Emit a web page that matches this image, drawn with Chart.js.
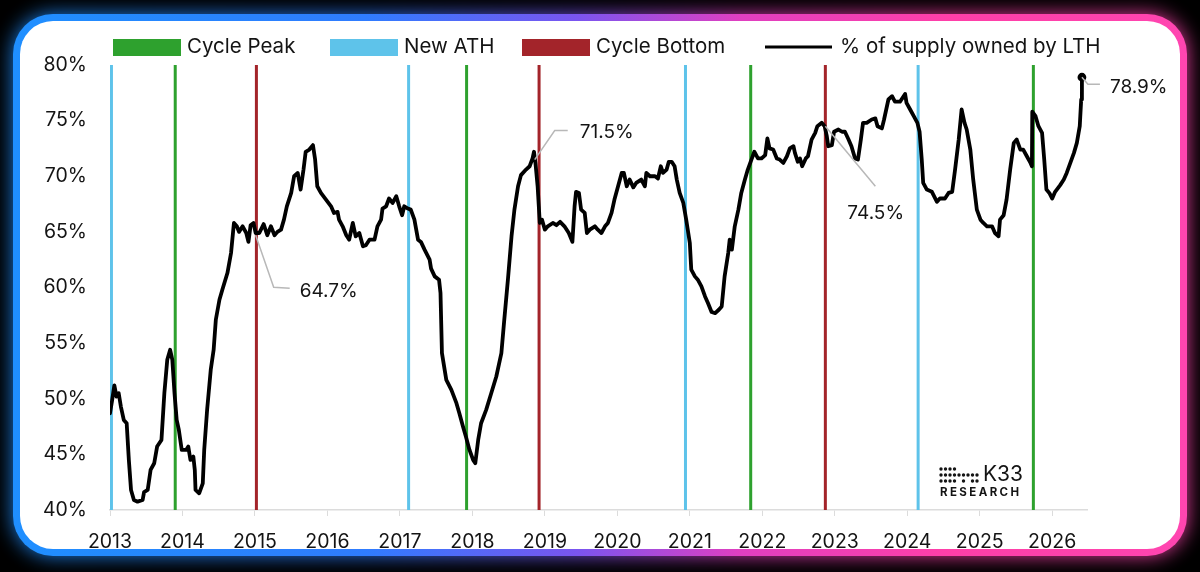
<!DOCTYPE html>
<html>
<head>
<meta charset="utf-8">
<script src="https://cdn.jsdelivr.net/npm/chart.js@4.4.1/dist/chart.umd.min.js"></script>
<style>
  html, body { margin: 0; padding: 0; background: #000; }
  #wrap { position: relative; width: 1200px; height: 572px; overflow: hidden; background: #000; }
  .glow, .ring { position: absolute; left: 13px; top: 14px; width: 1174px; height: 542px; border-radius: 40px;
    background: linear-gradient(90deg, #1f8fff 0%, #2f7cff 30%, #7a55f0 48%, #e03fc0 62%, #ff3fa8 80%, #ff45b0 100%); }
  .glow { filter: blur(10px); opacity: 0.9; }
  .panel { position: absolute; left: 20px; top: 21px; width: 1160px; height: 528px; border-radius: 33px; background: #fff; }
  canvas { position: absolute; left: 0; top: 0; }
</style>
</head>
<body>
<div id="wrap">
  <div class="glow"></div>
  <div class="ring"></div>
  <div class="panel"></div>
  <canvas id="lthChart" width="1200" height="572"></canvas>
</div>
<script>
// % of BTC supply held by long-term holders
const years = [
  2013.00, 2013.03, 2013.06, 2013.09, 2013.12, 2013.15, 2013.19, 2013.23, 2013.26, 2013.29,
  2013.33, 2013.38, 2013.45, 2013.47, 2013.52, 2013.56, 2013.61, 2013.65, 2013.71, 2013.75,
  2013.79, 2013.83, 2013.86, 2013.89, 2013.92, 2013.95, 2013.99, 2014.05, 2014.08, 2014.11,
  2014.15, 2014.17, 2014.18, 2014.23, 2014.28, 2014.30, 2014.34, 2014.39, 2014.43, 2014.46,
  2014.51, 2014.55, 2014.62, 2014.67, 2014.71, 2014.75, 2014.78, 2014.83, 2014.88, 2014.91,
  2014.94, 2014.98, 2015.01, 2015.06, 2015.12, 2015.17, 2015.22, 2015.27, 2015.31, 2015.36,
  2015.40, 2015.44, 2015.50, 2015.54, 2015.59, 2015.63, 2015.67, 2015.70, 2015.75, 2015.80,
  2015.83, 2015.86, 2015.91, 2015.98, 2016.05, 2016.09, 2016.14, 2016.16, 2016.21, 2016.26,
  2016.30, 2016.35, 2016.39, 2016.44, 2016.49, 2016.53, 2016.58, 2016.65, 2016.69, 2016.74,
  2016.76, 2016.81, 2016.85, 2016.90, 2016.95, 2016.99, 2017.03, 2017.06, 2017.11, 2017.15,
  2017.20, 2017.25, 2017.29, 2017.34, 2017.41, 2017.43, 2017.48, 2017.54, 2017.56, 2017.58,
  2017.64, 2017.71, 2017.78, 2017.82, 2017.87, 2017.91, 2017.96, 2018.01, 2018.04, 2018.08,
  2018.12, 2018.19, 2018.26, 2018.33, 2018.40, 2018.44, 2018.49, 2018.54, 2018.58, 2018.63,
  2018.67, 2018.74, 2018.79, 2018.83, 2018.85, 2018.87, 2018.90, 2018.93, 2018.96, 2019.00,
  2019.04, 2019.11, 2019.16, 2019.21, 2019.27, 2019.33, 2019.38, 2019.41, 2019.43, 2019.47,
  2019.50, 2019.55, 2019.58, 2019.62, 2019.69, 2019.73, 2019.78, 2019.83, 2019.87, 2019.92,
  2019.96, 2020.01, 2020.06, 2020.09, 2020.13, 2020.17, 2020.22, 2020.26, 2020.33, 2020.38,
  2020.40, 2020.45, 2020.52, 2020.56, 2020.60, 2020.63, 2020.68, 2020.71, 2020.75, 2020.79,
  2020.82, 2020.86, 2020.91, 2020.95, 2021.00, 2021.02, 2021.07, 2021.11, 2021.16, 2021.21,
  2021.25, 2021.30, 2021.35, 2021.40, 2021.44, 2021.48, 2021.53, 2021.55, 2021.58, 2021.62,
  2021.67, 2021.71, 2021.76, 2021.80, 2021.85, 2021.89, 2021.94, 2021.99, 2022.04, 2022.07,
  2022.10, 2022.15, 2022.20, 2022.24, 2022.29, 2022.34, 2022.38, 2022.43, 2022.45, 2022.49,
  2022.52, 2022.55, 2022.60, 2022.63, 2022.68, 2022.73, 2022.76, 2022.82, 2022.86, 2022.89,
  2022.91, 2022.96, 2022.99, 2023.05, 2023.10, 2023.14, 2023.19, 2023.23, 2023.28, 2023.32,
  2023.36, 2023.39, 2023.44, 2023.51, 2023.56, 2023.59, 2023.65, 2023.68, 2023.74, 2023.79,
  2023.83, 2023.90, 2023.97, 2023.99, 2024.04, 2024.09, 2024.14, 2024.17, 2024.20, 2024.22,
  2024.27, 2024.34, 2024.41, 2024.45, 2024.52, 2024.57, 2024.62, 2024.66, 2024.71, 2024.75,
  2024.79, 2024.82, 2024.87, 2024.91, 2024.96, 2025.01, 2025.05, 2025.10, 2025.17, 2025.21,
  2025.26, 2025.28, 2025.33, 2025.37, 2025.42, 2025.47, 2025.51, 2025.56, 2025.60, 2025.65,
  2025.70, 2025.72, 2025.725, 2025.77, 2025.81, 2025.86, 2025.89, 2025.92, 2025.96, 2026.00,
  2026.04, 2026.11, 2026.16, 2026.20, 2026.25, 2026.30, 2026.34, 2026.38, 2026.40, 2026.41
];
const lthShare = [
  48.7, 49.9, 51.2, 50.2, 50.5, 49.3, 48.1, 47.8, 44.5, 41.8,
  40.9, 40.75, 40.9, 41.6, 41.8, 43.6, 44.2, 45.7, 46.3, 50.5,
  53.5, 54.4, 53.5, 50.5, 48.1, 47.2, 45.4, 45.4, 45.7, 44.5,
  44.8, 43.6, 41.8, 41.5, 42.4, 45.4, 49.0, 52.6, 54.4, 57.1,
  58.9, 59.8, 61.3, 63.1, 65.8, 65.5, 65.0, 65.5, 64.9, 64.1,
  65.6, 65.8, 64.9, 64.9, 65.7, 64.7, 65.5, 64.7, 65.0, 65.2,
  66.1, 67.3, 68.5, 70.0, 70.3, 68.8, 70.6, 72.2, 72.4, 72.8,
  71.5, 69.1, 68.5, 67.9, 67.3, 66.7, 66.8, 66.1, 65.5, 64.7,
  64.3, 65.8, 64.6, 64.9, 63.7, 63.8, 64.3, 64.3, 65.5, 66.1,
  67.1, 67.3, 68.0, 67.6, 68.2, 67.3, 66.5, 67.3, 67.1, 67.0,
  66.1, 64.3, 64.1, 63.4, 62.5, 61.7, 61.0, 60.7, 59.5, 54.1,
  51.7, 50.8, 49.6, 48.7, 47.5, 46.6, 45.4, 44.5, 44.2, 46.3,
  47.8, 49.0, 50.5, 52.0, 54.1, 57.1, 60.7, 64.6, 67.0, 69.1,
  70.1, 70.6, 70.9, 71.6, 72.2, 71.2, 69.1, 65.8, 66.1, 65.2,
  65.5, 65.8, 65.6, 65.9, 65.5, 64.9, 64.1, 67.3, 68.6, 68.5,
  67.0, 66.7, 64.9, 65.2, 65.5, 65.2, 64.9, 65.5, 65.8, 66.7,
  67.9, 69.1, 70.3, 70.3, 69.1, 69.7, 69.0, 69.4, 69.7, 69.1,
  70.3, 70.0, 70.0, 69.8, 70.9, 70.3, 70.6, 71.3, 71.3, 70.9,
  69.7, 68.5, 67.6, 66.1, 64.0, 61.6, 61.0, 60.7, 60.1, 59.2,
  58.6, 57.8, 57.7, 58.0, 58.3, 61.0, 63.1, 64.3, 63.4, 65.5,
  67.0, 68.5, 69.7, 70.6, 71.5, 72.2, 71.6, 71.6, 71.9, 73.4,
  72.5, 72.4, 71.6, 71.5, 71.2, 71.8, 72.5, 72.7, 72.1, 71.3,
  71.6, 70.9, 71.6, 71.8, 73.3, 73.9, 74.5, 74.8, 74.5, 73.6,
  72.7, 72.8, 74.0, 74.2, 74.0, 74.0, 73.3, 72.7, 71.6, 71.5,
  73.3, 74.8, 74.8, 75.1, 75.2, 74.5, 74.3, 75.1, 76.9, 77.2,
  76.7, 76.7, 77.4, 76.6, 76.0, 75.4, 74.8, 74.0, 71.5, 69.4,
  68.8, 68.6, 67.7, 68.0, 68.0, 68.5, 68.6, 70.6, 73.3, 76.0,
  74.8, 74.2, 72.4, 69.7, 67.0, 66.1, 65.8, 65.5, 65.5, 64.9,
  64.6, 66.1, 66.5, 67.9, 70.6, 73.0, 73.3, 72.4, 72.4, 71.8,
  71.2, 70.9, 75.8, 75.4, 74.5, 73.9, 71.5, 68.8, 68.5, 68.0,
  68.6, 69.2, 69.7, 70.3, 71.2, 72.1, 73.0, 74.5, 76.9, 78.9
];

// cycle markers (decimal year)
const peakYears = [2013.90, 2017.92, 2021.84, 2025.74];
const athYears = [2013.02, 2017.12, 2020.94, 2024.15];
const bottomYears = [2015.02, 2018.92, 2022.87];

// highlighted readings
const calloutYears = [2015.01, 2018.86, 2022.87, 2026.41];
const calloutValues = [64.7, 71.5, 74.5, 78.9];
const calloutLabels = ['64.7%', '71.5%', '74.5%', '78.9%'];

const yMin = 40, yMax = 80, yStep = 5;
const xMin = 2013, xMax = 2026.48;

const PEAK = '#2ea12e';
const ATH = '#5ec3ea';
const BOTTOM = '#a3242a';
const FONT = 'Inter, "Open Sans", sans-serif';
const INK = '#141414';

function markerLine(list) {
  return list.flatMap(x => [{x: x, y: yMin}, {x: x, y: yMax}, {x: x, y: null}]);
}

// leader line shapes + label offsets, relative to each callout point
const calloutShapes = [
  {path: [[18, 52], [34, 53]], text: [44, 56]},
  {path: [[20, -29], [33, -29]], text: [45, -27]},
  {path: [[50, 60]], text: [22, 87]},
  {path: [[6, 7], [18, 7]], text: [28, 10]}
];

const calloutPlugin = {
  id: 'callouts',
  afterDatasetsDraw(chart) {
    const {ctx, scales: {x, y}} = chart;
    ctx.save();
    ctx.strokeStyle = '#b8b8b8';
    ctx.lineWidth = 1.5;
    ctx.fillStyle = INK;
    ctx.font = '19px ' + FONT;
    ctx.textBaseline = 'middle';
    calloutLabels.forEach((label, i) => {
      const px = x.getPixelForValue(calloutYears[i]);
      const py = y.getPixelForValue(calloutValues[i]);
      const s = calloutShapes[i];
      ctx.beginPath();
      ctx.moveTo(px, py);
      s.path.forEach(p => ctx.lineTo(px + p[0], py + p[1]));
      ctx.stroke();
      ctx.fillText(label, px + s.text[0], py + s.text[1]);
    });
    ctx.restore();
  }
};

// legend row across the top
const legendPlugin = {
  id: 'topLegend',
  afterDraw(chart) {
    const ctx = chart.ctx;
    const items = [
      {text: 'Cycle Peak', color: PEAK, left: 113},
      {text: 'New ATH', color: ATH, left: 330},
      {text: 'Cycle Bottom', color: BOTTOM, left: 522},
      {text: '% of supply owned by LTH', color: '#000', left: 765, line: true}
    ];
    ctx.save();
    ctx.font = '20.5px ' + FONT;
    ctx.textBaseline = 'middle';
    items.forEach(it => {
      if (it.line) {
        ctx.strokeStyle = it.color;
        ctx.lineWidth = 3;
        ctx.beginPath();
        ctx.moveTo(it.left, 47);
        ctx.lineTo(it.left + 67, 47);
        ctx.stroke();
        ctx.fillStyle = INK;
        ctx.fillText(it.text, it.left + 75, 47);
      } else {
        ctx.fillStyle = it.color;
        ctx.fillRect(it.left, 39, 68, 17);
        ctx.fillStyle = INK;
        ctx.fillText(it.text, it.left + 74, 47);
      }
    });
    ctx.restore();
  }
};

// K33 Research watermark
const logoPlugin = {
  id: 'logo',
  afterDraw(chart) {
    const ctx = chart.ctx;
    ctx.save();
    ctx.fillStyle = INK;
    const rows = [469, 475, 481];
    const cols = [941, 945.5, 950, 954.5, 959, 963.5, 968, 972.5, 977];
    const mask = [
      [1, 1, 1, 1, 0, 0, 0, 0, 0],
      [1, 1, 1, 1, 1, 1, 1, 1, 1],
      [1, 1, 1, 1, 0, 1, 0, 1, 1]
    ];
    rows.forEach((ry, r) => cols.forEach((cx, c) => {
      if (mask[r][c]) { ctx.beginPath(); ctx.arc(cx, ry, 1.7, 0, Math.PI * 2); ctx.fill(); }
    }));
    ctx.font = '21px ' + FONT;
    ctx.textBaseline = 'middle';
    ctx.fillText('K33', 983, 475);
    ctx.font = 'bold 11.5px ' + FONT;
    ctx.letterSpacing = '2.4px';
    ctx.fillText('RESEARCH', 940, 493);
    ctx.restore();
  }
};

new Chart(document.getElementById('lthChart').getContext('2d'), {
  type: 'line',
  data: {
    datasets: [
      {
        label: '% of supply owned by LTH',
        data: years.map((yr, i) => ({x: yr, y: lthShare[i]})),
        borderColor: '#000',
        backgroundColor: '#000',
        borderWidth: 3.8,
        borderJoinStyle: 'round',
        borderCapStyle: 'round',
        pointRadius: ctx => ctx.dataIndex === years.length - 1 ? 2.5 : 0,
        tension: 0,
        order: 0
      },
      {label: 'Cycle Peak', data: markerLine(peakYears), borderColor: PEAK, borderWidth: 3, pointRadius: 0, order: 1},
      {label: 'New ATH', data: markerLine(athYears), borderColor: ATH, borderWidth: 3, pointRadius: 0, order: 2},
      {label: 'Cycle Bottom', data: markerLine(bottomYears), borderColor: BOTTOM, borderWidth: 3, pointRadius: 0, order: 3}
    ]
  },
  options: {
    responsive: false,
    animation: false,
    devicePixelRatio: 1,
    layout: {padding: {left: 20, right: 113, top: 65, bottom: 17}},
    plugins: {
      legend: {display: false},
      tooltip: {enabled: false}
    },
    scales: {
      x: {
        type: 'linear',
        min: xMin,
        max: xMax,
        afterFit: s => { s.height = 45; },
        ticks: {
          stepSize: 1,
          includeBounds: false,
          autoSkip: false,
          maxRotation: 0,
          padding: 14,
          color: INK,
          font: {family: FONT, size: 19.5},
          callback: v => String(v)
        },
        grid: {drawOnChartArea: false, drawTicks: true, tickLength: 6, color: '#dcdcdc'},
        border: {display: true, color: '#dcdcdc', width: 1.5}
      },
      y: {
        min: yMin,
        max: yMax,
        afterFit: s => { s.width = 90; },
        ticks: {
          stepSize: yStep,
          padding: 23,
          color: INK,
          font: {family: FONT, size: 19.5},
          callback: v => v + '%'
        },
        grid: {display: false, drawTicks: false},
        border: {display: false}
      }
    }
  },
  plugins: [calloutPlugin, legendPlugin, logoPlugin]
});
</script>
</body>
</html>
